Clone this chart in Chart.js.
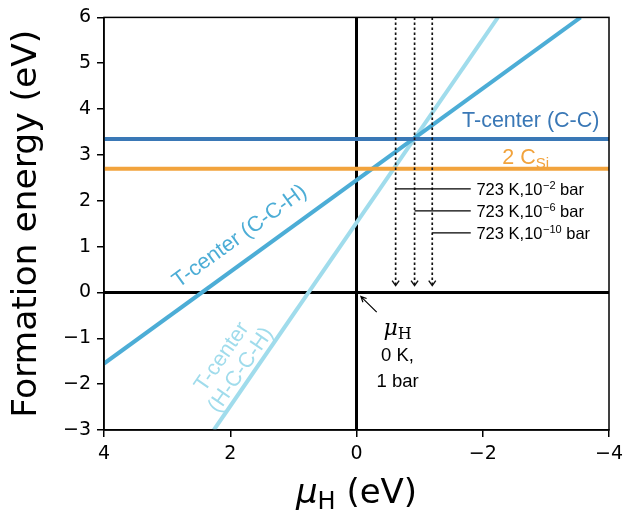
<!DOCTYPE html>
<html>
<head>
<meta charset="utf-8">
<script src="https://cdn.jsdelivr.net/npm/chart.js@4.4.1/dist/chart.umd.min.js"></script>
<style>
  html, body { margin: 0; padding: 0; background: #fff; }
</style>
</head>
<body>
<canvas id="formationChart" width="636" height="510"></canvas>
<script>
// chemical potential range and defect formation energies (eV)
const muRange = [4, -4];
const tccEnergy = [3.35, 3.35];          // T-center (C-C)
const csiEnergy = [2.7, 2.7];            // 2 C_Si
const cchMu = [4, -3.55];                // T-center (C-C-H)
const cchEnergy = [-1.55, 6];
const hcchMu = [2.26, -2.24];            // T-center (H-C-C-H)
const hcchEnergy = [-3, 6];

// equilibrium mu_H at 723 K for several H2 pressures
const equilMu = [-0.62, -0.92, -1.2];
const equilPressure = ['−2', '−6', '−10'];
const equilLabelEnergy = [2.26, 1.78, 1.3];
const arrowTop = 6, arrowTip = 0.15;

const colCC = '#3a78b6';
const colCSi = '#f2a33c';
const colCCH = '#4cadd6';
const colHCCH = '#a0dcec';
const sansLabel = '"Liberation Sans", Arial, sans-serif';
const sansAxis = '"DejaVu Sans", sans-serif';

const pts = (xs, ys) => xs.map((v, i) => ({ x: v, y: ys[i] }));

const datasets = [];
equilMu.forEach(m => {
  datasets.push({
    data: pts([m, m], [arrowTop, arrowTip]),
    borderColor: '#111', borderWidth: 1.7, borderDash: [2.5, 2.5]
  });
});
datasets.push(
  { data: pts(muRange, tccEnergy), borderColor: colCC, borderWidth: 4 },
  { data: pts(muRange, csiEnergy), borderColor: colCSi, borderWidth: 4 },
  { data: pts(cchMu, cchEnergy), borderColor: colCCH, borderWidth: 4 },
  { data: pts(hcchMu, hcchEnergy), borderColor: colHCCH, borderWidth: 4 },
  { data: pts(muRange, [0, 0]), borderColor: '#000', borderWidth: 3 },
  { data: pts([0, 0], [-3, 6]), borderColor: '#000', borderWidth: 3 }
);

const minusFmt = v => (v < 0 ? '−' + Math.abs(v) : String(v));

const annotations = {
  id: 'annotations',
  afterDatasetsDraw(chart) {
    const { ctx, chartArea: a, scales: { x, y } } = chart;
    const px = v => x.getPixelForValue(v);
    const py = v => y.getPixelForValue(v);
    ctx.save();

    // frame
    ctx.strokeStyle = '#000';
    ctx.lineWidth = 1.5;
    ctx.strokeRect(a.left, a.top, a.right - a.left, a.bottom - a.top);

    // arrow heads on dotted lines
    ctx.strokeStyle = '#111';
    ctx.lineWidth = 1.4;
    equilMu.forEach(m => {
      const X = px(m), Y = py(arrowTip);
      ctx.beginPath();
      ctx.moveTo(X - 3.5, Y - 5);
      ctx.lineTo(X, Y);
      ctx.lineTo(X + 3.5, Y - 5);
      ctx.stroke();
    });

    // pressure labels
    ctx.fillStyle = '#000';
    ctx.strokeStyle = '#000';
    ctx.lineWidth = 1.2;
    equilMu.forEach((m, i) => {
      const Y = py(equilLabelEnergy[i]);
      ctx.beginPath();
      ctx.moveTo(px(m), Y);
      ctx.lineTo(px(-1.81), Y);
      ctx.stroke();
      let tx = px(-1.9);
      const base = Y + 6;
      ctx.textAlign = 'left';
      ctx.textBaseline = 'alphabetic';
      ctx.font = '16.5px ' + sansLabel;
      ctx.fillText('723 K,10', tx, base);
      tx += ctx.measureText('723 K,10').width;
      ctx.font = '11px ' + sansLabel;
      ctx.fillText(equilPressure[i], tx + 0.5, base - 6);
      tx += ctx.measureText(equilPressure[i]).width + 0.5;
      ctx.font = '16.5px ' + sansLabel;
      ctx.fillText(' bar', tx, base);
    });

    // mu_H at 0 K, 1 bar
    ctx.beginPath();
    const ax0 = px(-0.32), ay0 = py(-0.43), ax1 = px(-0.07), ay1 = py(-0.09);
    ctx.moveTo(ax0, ay0);
    ctx.lineTo(ax1, ay1);
    const ang = Math.atan2(ay1 - ay0, ax1 - ax0);
    ctx.moveTo(ax1 - 6 * Math.cos(ang - 0.45), ay1 - 6 * Math.sin(ang - 0.45));
    ctx.lineTo(ax1, ay1);
    ctx.lineTo(ax1 - 6 * Math.cos(ang + 0.45), ay1 - 6 * Math.sin(ang + 0.45));
    ctx.stroke();

    const cx = px(-0.65);
    ctx.textAlign = 'left';
    ctx.font = 'italic 22px "DejaVu Serif", serif';
    const muW = ctx.measureText('μ').width;
    ctx.font = '16px "DejaVu Serif", serif';
    const hW = ctx.measureText('H').width;
    let sx = cx - (muW + hW) / 2;
    ctx.font = 'italic 22px "DejaVu Serif", serif';
    ctx.fillText('μ', sx, py(-0.93));
    ctx.font = '16px "DejaVu Serif", serif';
    ctx.fillText('H', sx + muW, py(-0.93) + 4);
    ctx.textAlign = 'center';
    ctx.font = '18.5px ' + sansLabel;
    ctx.fillText('0 K,', cx, py(-1.5));
    ctx.fillText('1 bar', cx, py(-2.06));

    // horizontal line labels
    ctx.font = '21.5px ' + sansLabel;
    ctx.fillStyle = colCC;
    ctx.fillText('T-center (C-C)', px(-2.76), py(3.6));
    ctx.fillStyle = colCSi;
    const csx = px(-2.68), csy = py(2.8);
    ctx.textAlign = 'left';
    const w2 = ctx.measureText('2 C').width;
    ctx.font = '15px ' + sansLabel;
    const wsi = ctx.measureText('Si').width;
    const s0 = csx - (w2 + wsi) / 2;
    ctx.font = '21.5px ' + sansLabel;
    ctx.fillText('2 C', s0, csy);
    ctx.font = '15px ' + sansLabel;
    ctx.fillText('Si', s0 + w2, csy + 4);

    // slanted line labels
    const slope = (xs, ys) => Math.atan2(py(ys[1]) - py(ys[0]), px(xs[1]) - px(xs[0]));
    ctx.textAlign = 'center';
    ctx.textBaseline = 'middle';
    ctx.font = '21.5px ' + sansLabel;

    ctx.save();
    ctx.translate(px(1.85), py(1.22));
    ctx.rotate(slope(cchMu, cchEnergy));
    ctx.fillStyle = colCCH;
    ctx.fillText('T-center (C-C-H)', 0, 0);
    ctx.restore();

    ctx.save();
    ctx.translate(px(1.98), py(-1.55));
    ctx.rotate(slope(hcchMu, hcchEnergy));
    ctx.fillStyle = colHCCH;
    ctx.fillText('T-center', 0, -11.5);
    ctx.fillText('(H-C-C-H)', 0, 11.5);
    ctx.restore();

    // axis titles
    ctx.fillStyle = '#000';
    ctx.textBaseline = 'alphabetic';
    ctx.save();
    ctx.translate(36, (a.top + a.bottom) / 2);
    ctx.rotate(-Math.PI / 2);
    ctx.textAlign = 'center';
    ctx.font = '34.5px ' + sansAxis;
    ctx.fillText('Formation energy (eV)', 0, 0);
    ctx.restore();

    ctx.textAlign = 'left';
    ctx.font = 'italic 34px ' + sansAxis;
    const mw = ctx.measureText('μ').width;
    ctx.font = '24px ' + sansAxis;
    const hw = ctx.measureText('H').width;
    ctx.font = '34px ' + sansAxis;
    const rw = ctx.measureText(' (eV)').width;
    let tx0 = (a.left + a.right) / 2 - (mw + hw + rw) / 2;
    const tb = 503;
    ctx.font = 'italic 34px ' + sansAxis;
    ctx.fillText('μ', tx0, tb);
    ctx.font = '24px ' + sansAxis;
    ctx.fillText('H', tx0 + mw, tb + 6);
    ctx.font = '34px ' + sansAxis;
    ctx.fillText(' (eV)', tx0 + mw + hw, tb);

    ctx.restore();
  }
};

new Chart(document.getElementById('formationChart').getContext('2d'), {
  type: 'scatter',
  data: { datasets },
  options: {
    responsive: false,
    devicePixelRatio: 1,
    animation: false,
    showLine: true,
    elements: { point: { radius: 0, hoverRadius: 0 }, line: { tension: 0 } },
    layout: { padding: { top: 15, right: 27, left: 0, bottom: 0 } },
    plugins: { legend: { display: false }, tooltip: { enabled: false } },
    scales: {
      x: {
        type: 'linear', min: -4, max: 4, reverse: true,
        afterFit: s => { s.height = 80; },
        border: { color: '#000', width: 1.5 },
        grid: { drawOnChartArea: false, drawTicks: true, tickLength: 7, color: '#000', lineWidth: 1.5 },
        ticks: { stepSize: 2, color: '#000', padding: 6, font: { family: sansAxis, size: 19 }, callback: minusFmt }
      },
      y: {
        type: 'linear', min: -3, max: 6,
        afterFit: s => { s.width = 104; },
        border: { color: '#000', width: 1.5 },
        grid: { drawOnChartArea: false, drawTicks: true, tickLength: 7, color: '#000', lineWidth: 1.5 },
        ticks: { stepSize: 1, color: '#000', padding: 6, font: { family: sansAxis, size: 19 }, callback: minusFmt }
      }
    }
  },
  plugins: [annotations]
});
</script>
</body>
</html>
